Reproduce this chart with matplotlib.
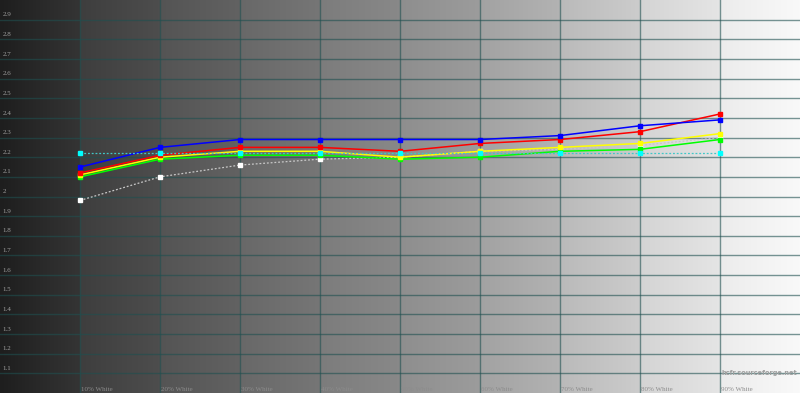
import numpy as np
import matplotlib
matplotlib.use("Agg")
import matplotlib.pyplot as plt

# ---- data ----
levels = [10, 20, 30, 40, 50, 60, 70, 80, 90]
x_labels = ["10% White", "20% White", "30% White", "40% White", "50% White",
            "60% White", "70% White", "80% White", "90% White"]
y_ticks = [1.1, 1.2, 1.3, 1.4, 1.5, 1.6, 1.7, 1.8, 1.9, 2.0,
           2.1, 2.2, 2.3, 2.4, 2.5, 2.6, 2.7, 2.8, 2.9]
y_tick_labels = ["1.1", "1.2", "1.3", "1.4", "1.5", "1.6", "1.7", "1.8", "1.9", "2",
                 "2.1", "2.2", "2.3", "2.4", "2.5", "2.6", "2.7", "2.8", "2.9"]

gamma_blue = [2.15, 2.25, 2.29, 2.29, 2.29, 2.29, 2.31, 2.36, 2.39]
gamma_red = [2.12, 2.21, 2.25, 2.25, 2.23, 2.27, 2.29, 2.33, 2.42]
gamma_yellow = [2.11, 2.20, 2.23, 2.23, 2.20, 2.23, 2.25, 2.27, 2.32]
gamma_green = [2.10, 2.19, 2.21, 2.21, 2.19, 2.20, 2.23, 2.24, 2.29]
gamma_target = [2.22, 2.22, 2.22, 2.22, 2.22, 2.22, 2.22, 2.22, 2.22]
gamma_lum = [1.98, 2.10, 2.16, 2.19, 2.20, 2.23, 2.24, 2.26, 2.30]

# ---- figure ----
fig = plt.figure(figsize=(8.0, 3.93), dpi=100)
ax = fig.add_axes([0, 0, 1, 1])
ax.set_xlim(0, 100)
ax.set_ylim(1.0, 3.0)
ax.axis("off")

# background: grey ramp in 10% bands
band_start = [30, 62, 84, 104, 124, 142, 162, 186, 212, 236, 255]
cols = 800
xs = np.linspace(0, 100, cols, endpoint=False)
g = np.zeros(cols)
for i, xv in enumerate(xs):
    k = int(xv // 10)
    frac = (xv - 10 * k) / 10.0
    g[i] = band_start[k] + 0.7 * (band_start[k + 1] - band_start[k]) * frac
g = g / 255.0
img = np.tile(np.stack([g, g, g], axis=-1)[None, :, :], (2, 1, 1))
ax.imshow(img, extent=[0, 100, 1.0, 3.0], aspect="auto", zorder=0,
          interpolation="bilinear")

grid_kw = dict(color="#1f5050", alpha=0.6, lw=1.0, zorder=1)
for yv in y_ticks:
    ax.axhline(yv, **grid_kw)
for xv in levels:
    ax.axvline(xv, **grid_kw)

# tick labels
for yv, lab in zip(y_ticks, y_tick_labels):
    ax.text(0.3, yv + 0.012, lab, fontsize=5, family="Liberation Serif",
            color="#a0a0a0", ha="left", va="bottom", zorder=2)
for xv, lab in zip(levels, x_labels):
    ax.text(xv + 0.15, 1.003, lab, fontsize=5, family="Liberation Serif",
            color="#8c8c8c", ha="left", va="bottom", zorder=2)

ax.text(99.7, 1.1, "hcfr.sourceforge.net", fontsize=4.8, family="DejaVu Sans",
        weight="bold", color="#a0a0a0", ha="right", va="center", zorder=2)

# series
ms = 2.8
ax.plot(levels, gamma_lum, color="#c8c8c8", lw=0.9, ls=(0, (1.5, 1.5)),
        marker="s", ms=ms, mfc="#ffffff", mec="#ffffff", zorder=3)
ax.plot(levels, gamma_green, color="#00ff00", lw=1.1, marker="s", ms=ms, zorder=4)
ax.plot(levels, gamma_yellow, color="#ffff00", lw=1.1, marker="s", ms=ms, zorder=5)
ax.plot(levels, gamma_red, color="#ff0000", lw=1.1, marker="s", ms=ms, zorder=6)
ax.plot(levels, gamma_blue, color="#0000ff", lw=1.1, marker="s", ms=ms, zorder=6)
ax.plot(levels, gamma_target, color="#40c8c8", lw=0.9, ls=(0, (1.5, 1.5)),
        marker="s", ms=ms, mfc="#00ffff", mec="#00ffff", zorder=7)

fig.savefig("out.png", dpi=100)
